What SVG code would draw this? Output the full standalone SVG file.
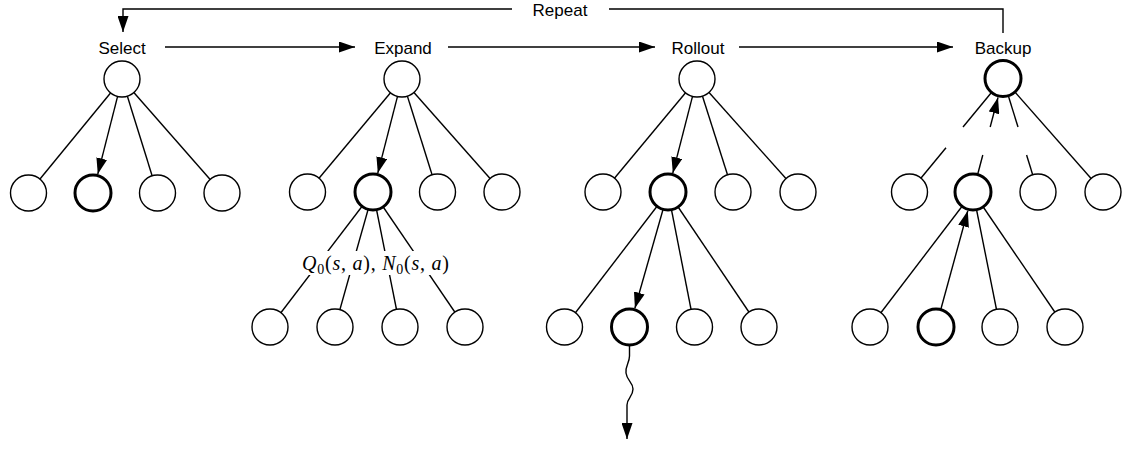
<svg xmlns="http://www.w3.org/2000/svg" width="1122" height="449" viewBox="0 0 1122 449">
<style>
.e{stroke:#000;stroke-width:1.4;fill:none}
.a{stroke:#000;stroke-width:1.4;fill:none;marker-end:url(#ah)}
.n{fill:#fff;stroke:#000;stroke-width:1.4}
.b{fill:#fff;stroke:#000;stroke-width:3}
.t{font-family:"Liberation Sans",Arial,sans-serif;font-size:17px;fill:#000;text-anchor:middle}
.m{font-family:"Liberation Serif","Times New Roman",serif;font-size:20px;fill:#000}
.i{font-style:italic}
</style>
<defs>
<marker id="ah" markerWidth="16" markerHeight="11" refX="16" refY="5.5" orient="auto" markerUnits="userSpaceOnUse"><path d="M0,0 L16,5.5 L0,11 z" fill="#000"/></marker>
</defs>
<rect width="1122" height="449" fill="#fff"/>
<g id="connectors">
<!-- stage flow -->
<line class="a" x1="165" y1="47" x2="355" y2="47"/>
<line class="a" x1="448" y1="47" x2="655" y2="47"/>
<line class="a" x1="739" y1="47" x2="953" y2="47"/>
<path class="e" d="M1003,33 V9 H609"/>
<path class="a" d="M512,9 H123 V32"/>
<!-- Select tree -->
<line class="e" x1="122" y1="79" x2="28.5" y2="193"/>
<line class="a" x1="117.6" y1="96.4" x2="97.8" y2="174.1"/>
<line class="e" x1="122" y1="79" x2="157.5" y2="193"/>
<line class="e" x1="122" y1="79" x2="222" y2="193"/>
<!-- Expand tree -->
<line class="e" x1="402" y1="79" x2="307.5" y2="192"/>
<line class="a" x1="397.5" y1="96.4" x2="377.8" y2="173.1"/>
<line class="e" x1="402" y1="79" x2="437.5" y2="192"/>
<line class="e" x1="402" y1="79" x2="502" y2="192"/>
<line class="e" x1="373" y1="192" x2="270" y2="327"/>
<line class="e" x1="373" y1="192" x2="335" y2="327"/>
<line class="e" x1="373" y1="192" x2="400" y2="327"/>
<line class="e" x1="373" y1="192" x2="465" y2="327"/>
<!-- Rollout tree -->
<line class="e" x1="697" y1="79" x2="603" y2="192"/>
<line class="a" x1="692.5" y1="96.4" x2="672.8" y2="173.1"/>
<line class="e" x1="697" y1="79" x2="733" y2="192"/>
<line class="e" x1="697" y1="79" x2="798" y2="192"/>
<line class="e" x1="668" y1="192" x2="564.5" y2="327"/>
<line class="a" x1="663.1" y1="209.3" x2="634.9" y2="308.3"/>
<line class="e" x1="668" y1="192" x2="694.5" y2="327"/>
<line class="e" x1="668" y1="192" x2="759" y2="327"/>
<path class="a" d="M629.5,345 L629.5,356 C629.5,363 625,366 626,373 C627,381 633,382 633,389 C633,397 627,398 627,405 L627,439"/>
<!-- Backup tree -->
<line class="e" x1="1003" y1="78.5" x2="963" y2="127"/>
<line class="e" x1="946" y1="147.7" x2="909.5" y2="192"/>
<line class="e" x1="973" y1="192" x2="982.8" y2="155"/>
<line class="a" x1="990.2" y1="127" x2="998" y2="97.4"/>
<line class="e" x1="1003" y1="78.5" x2="1018" y2="127"/>
<line class="e" x1="1026.6" y1="155" x2="1038" y2="192"/>
<line class="e" x1="1003" y1="78.5" x2="1103" y2="192"/>
<line class="e" x1="973" y1="192" x2="870" y2="327"/>
<line class="a" x1="936" y1="327" x2="967.8" y2="210.8"/>
<line class="e" x1="973" y1="192" x2="1000" y2="327"/>
<line class="e" x1="973" y1="192" x2="1065" y2="327"/>
</g>
<g id="labels">
<text class="t" x="560" y="16">Repeat</text>
<text class="t" x="122" y="54">Select</text>
<text class="t" x="403" y="54">Expand</text>
<text class="t" x="698" y="54">Rollout</text>
<text class="t" x="1003" y="54">Backup</text>
</g>
<g id="select-tree">
<g id="s-root"><circle class="n" cx="122" cy="79" r="18"/></g>
<g id="s-c1"><circle class="n" cx="28.5" cy="193" r="18"/></g>
<g id="s-c2"><circle class="b" cx="93" cy="193" r="18"/></g>
<g id="s-c3"><circle class="n" cx="157.5" cy="193" r="18"/></g>
<g id="s-c4"><circle class="n" cx="222" cy="193" r="18"/></g>
</g>
<g id="expand-tree">
<g id="e-root"><circle class="n" cx="402" cy="79" r="18"/></g>
<g id="e-c1"><circle class="n" cx="307.5" cy="192" r="18"/></g>
<g id="e-c2"><circle class="b" cx="373" cy="192" r="18"/></g>
<g id="e-c3"><circle class="n" cx="437.5" cy="192" r="18"/></g>
<g id="e-c4"><circle class="n" cx="502" cy="192" r="18"/></g>
<g id="e-g1"><circle class="n" cx="270" cy="327" r="18"/></g>
<g id="e-g2"><circle class="n" cx="335" cy="327" r="18"/></g>
<g id="e-g3"><circle class="n" cx="400" cy="327" r="18"/></g>
<g id="e-g4"><circle class="n" cx="465" cy="327" r="18"/></g>
<g id="e-label">
<rect x="300" y="251" width="152" height="24" fill="#fff"/>
<text class="m" x="302" y="270" textLength="147" lengthAdjust="spacing"><tspan class="i">Q</tspan><tspan font-size="14" dy="4">0</tspan><tspan dy="-4">(</tspan><tspan class="i">s</tspan>, <tspan class="i">a</tspan>),  <tspan class="i">N</tspan><tspan font-size="14" dy="4">0</tspan><tspan dy="-4">(</tspan><tspan class="i">s</tspan>, <tspan class="i">a</tspan>)</text>
</g>
</g>
<g id="rollout-tree">
<g id="r-root"><circle class="n" cx="697" cy="79" r="18"/></g>
<g id="r-c1"><circle class="n" cx="603" cy="192" r="18"/></g>
<g id="r-c2"><circle class="b" cx="668" cy="192" r="18"/></g>
<g id="r-c3"><circle class="n" cx="733" cy="192" r="18"/></g>
<g id="r-c4"><circle class="n" cx="798" cy="192" r="18"/></g>
<g id="r-g1"><circle class="n" cx="564.5" cy="327" r="18"/></g>
<g id="r-g2"><circle class="b" cx="629.5" cy="327" r="18"/></g>
<g id="r-g3"><circle class="n" cx="694.5" cy="327" r="18"/></g>
<g id="r-g4"><circle class="n" cx="759" cy="327" r="18"/></g>
</g>
<g id="backup-tree">
<g id="b-root"><circle class="b" cx="1003" cy="78.5" r="18"/></g>
<g id="b-c1"><circle class="n" cx="909.5" cy="192" r="18"/></g>
<g id="b-c2"><circle class="b" cx="973" cy="192" r="18"/></g>
<g id="b-c3"><circle class="n" cx="1038" cy="192" r="18"/></g>
<g id="b-c4"><circle class="n" cx="1103" cy="192" r="18"/></g>
<g id="b-g1"><circle class="n" cx="870" cy="327" r="18"/></g>
<g id="b-g2"><circle class="b" cx="936" cy="327" r="18"/></g>
<g id="b-g3"><circle class="n" cx="1000" cy="327" r="18"/></g>
<g id="b-g4"><circle class="n" cx="1065" cy="327" r="18"/></g>
</g>
</svg>
